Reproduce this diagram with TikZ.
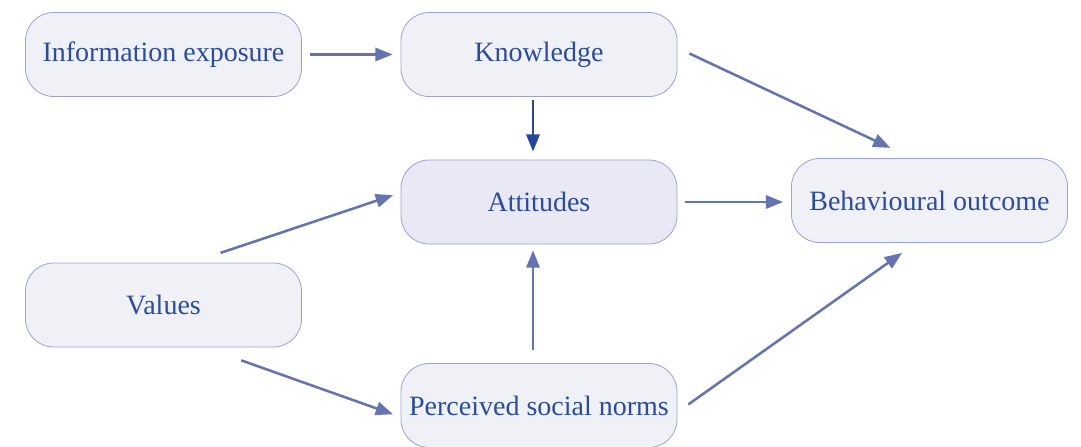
\documentclass[tikz,border=0pt]{standalone}
\usepackage{fontspec}
\setmainfont{Liberation Serif}
\usetikzlibrary{arrows.meta}

\begin{document}
\begin{tikzpicture}[x=0.75pt,y=-0.75pt]
  \definecolor{boxfill}{HTML}{F0F0F7}
  \definecolor{attfill}{HTML}{E8E9F4}
  \definecolor{boxline}{HTML}{9DA2CF}
  \definecolor{textblue}{HTML}{2B4C9B}
  \definecolor{arrowblue}{HTML}{6673B1}
  \definecolor{darkarrow}{HTML}{27479A}
  \tikzstyle{factor}=[draw=boxline, fill=boxfill, rounded corners=21pt, line width=0.6pt,
    minimum width=207pt, minimum height=63pt, text=textblue, font=\fontsize{21}{24}\selectfont]
  \tikzstyle{link}=[draw=arrowblue, line width=1.9pt, shorten <=6pt, shorten >=6pt,
    -{Triangle[length=13pt,width=10pt]}]

  \useasboundingbox (0,0) rectangle (1081,446);

  \node[factor] (info) at (163.5,54.5) {Information exposure};
  \node[factor] (know) at (539,54.5) {Knowledge};
  \node[factor, fill=attfill] (att) at (539,202) {Attitudes};
  \node[factor] (beh) at (929.5,200.5) {Behavioural outcome};
  \node[factor] (val) at (163.5,305) {Values};
  \node[factor] (norms) at (539,405.5) {Perceived social norms};

  \draw[link] (info) -- (know);
  \draw[link, draw=darkarrow, shorten <=2pt] ([xshift=-4.5pt]know.south) -- ([xshift=-4.5pt]att.north);
  \draw[link, shorten <=10pt, shorten >=18pt] ([yshift=5pt]know.east) -- ([xshift=-13pt]beh.north);
  \draw[link, shorten <=23pt] ([xshift=21pt]val.north) -- ([yshift=7pt]att.west);
  \draw[link] (att.east) -- (beh.west |- att.east);
  \draw[link, shorten <=29pt] ([xshift=31pt]val.south) -- ([yshift=-8.6pt]norms.west);
  \draw[link, shorten <=10pt, shorten >=4.5pt] ([xshift=-4.5pt]norms.north) -- ([xshift=-4.5pt]att.south);
  \draw[link, shorten <=10pt, shorten >=13pt] ([yshift=-5pt]norms.east) -- ([xshift=-10pt]beh.south);
\end{tikzpicture}
\end{document}
